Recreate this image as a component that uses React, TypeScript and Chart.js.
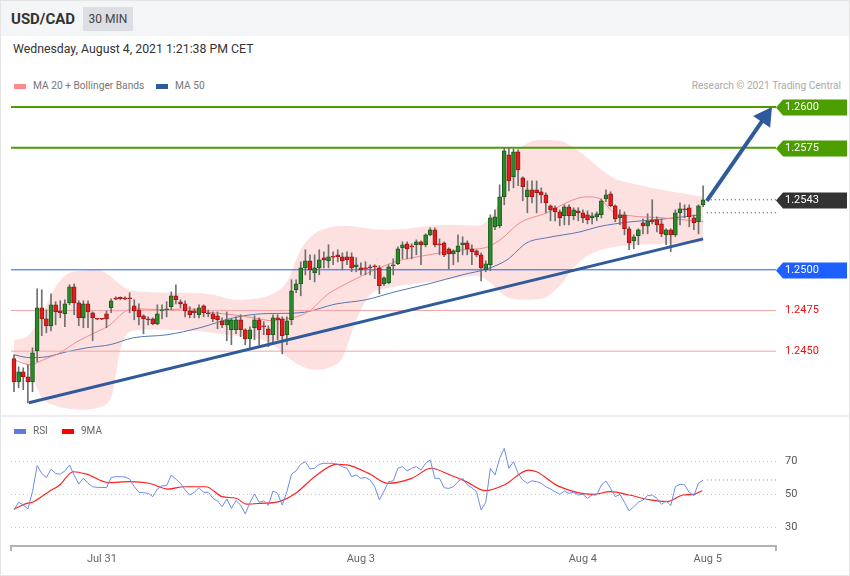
import React, { useEffect, useRef } from 'react';
import { Chart, registerables } from 'chart.js';
Chart.register(...registerables);

// ---------- candle data (USD/CAD, 30 min) ----------
const opens = [
  1.24454, 1.24312, 1.24374, 1.24343, 1.24312, 1.24503, 1.24767, 1.24699, 1.24656, 1.24785,
  1.24748, 1.24730, 1.24797, 1.24896, 1.24797, 1.24705, 1.24791, 1.24736, 1.24699, 1.24699,
  1.24730, 1.24767, 1.24828, 1.24831, 1.24828, 1.24828, 1.24779, 1.24754, 1.24718, 1.24699,
  1.24699, 1.24668, 1.24748, 1.24754, 1.24773, 1.24840, 1.24804, 1.24791, 1.24748, 1.24748,
  1.24724, 1.24779, 1.24736, 1.24730, 1.24718, 1.24687, 1.24662, 1.24632, 1.24632, 1.24693,
  1.24632, 1.24576, 1.24644, 1.24693, 1.24656, 1.24638, 1.24601, 1.24705, 1.24699, 1.24601,
  1.24693, 1.24877, 1.24914, 1.25012, 1.25055, 1.24982, 1.25012, 1.25074, 1.25055, 1.25080,
  1.25092, 1.25080, 1.25080, 1.25080, 1.25018, 1.25012, 1.25012, 1.25018, 1.25025, 1.25012,
  1.24914, 1.24920, 1.25025, 1.25037, 1.25135, 1.25160, 1.25147, 1.25154, 1.25172, 1.25154,
  1.25215, 1.25246, 1.25160, 1.25166, 1.25129, 1.25098, 1.25111, 1.25154, 1.25166, 1.25129,
  1.25117, 1.25092, 1.25000, 1.25031, 1.25264, 1.25270, 1.25448, 1.25706, 1.25571, 1.25725,
  1.25565, 1.25448, 1.25491, 1.25491, 1.25479, 1.25460, 1.25393, 1.25381, 1.25356, 1.25332,
  1.25387, 1.25332, 1.25362, 1.25350, 1.25338, 1.25319, 1.25325, 1.25338, 1.25436, 1.25467,
  1.25393, 1.25319, 1.25338, 1.25252, 1.25178, 1.25209, 1.25289, 1.25270, 1.25307, 1.25307,
  1.25282, 1.25215, 1.25246, 1.25215, 1.25350, 1.25375, 1.25381, 1.25319, 1.25295, 1.25399,
];
const highs = [
  1.24478, 1.24404, 1.24398, 1.24417, 1.24521, 1.24883, 1.24877, 1.24754, 1.24853, 1.24804,
  1.24810, 1.24816, 1.24908, 1.24914, 1.24810, 1.24810, 1.24810, 1.24742, 1.24702, 1.24702,
  1.24748, 1.24822, 1.24834, 1.24834, 1.24834, 1.24859, 1.24816, 1.24791, 1.24724, 1.24711,
  1.24705, 1.24785, 1.24785, 1.24804, 1.24865, 1.24908, 1.24816, 1.24810, 1.24773, 1.24761,
  1.24785, 1.24785, 1.24754, 1.24742, 1.24742, 1.24705, 1.24742, 1.24699, 1.24711, 1.24724,
  1.24638, 1.24650, 1.24718, 1.24705, 1.24681, 1.24656, 1.24724, 1.24724, 1.24711, 1.24711,
  1.24939, 1.24939, 1.25049, 1.25123, 1.25092, 1.25092, 1.25123, 1.25111, 1.25154, 1.25111,
  1.25123, 1.25104, 1.25111, 1.25104, 1.25074, 1.25043, 1.25049, 1.25031, 1.25031, 1.25025,
  1.24957, 1.25031, 1.25068, 1.25141, 1.25172, 1.25172, 1.25160, 1.25184, 1.25178, 1.25221,
  1.25258, 1.25258, 1.25190, 1.25172, 1.25135, 1.25123, 1.25215, 1.25203, 1.25178, 1.25154,
  1.25123, 1.25104, 1.25055, 1.25338, 1.25368, 1.25522, 1.25749, 1.25749, 1.25743, 1.25737,
  1.25571, 1.25546, 1.25546, 1.25546, 1.25503, 1.25473, 1.25399, 1.25393, 1.25368, 1.25399,
  1.25399, 1.25381, 1.25381, 1.25368, 1.25362, 1.25350, 1.25356, 1.25436, 1.25491, 1.25479,
  1.25399, 1.25368, 1.25356, 1.25264, 1.25215, 1.25252, 1.25313, 1.25344, 1.25430, 1.25325,
  1.25313, 1.25252, 1.25252, 1.25368, 1.25411, 1.25399, 1.25399, 1.25338, 1.25399, 1.25516,
];
const lows = [
  1.24251, 1.24275, 1.24263, 1.24183, 1.24251, 1.24435, 1.24595, 1.24613, 1.24625, 1.24662,
  1.24705, 1.24650, 1.24785, 1.24724, 1.24656, 1.24644, 1.24644, 1.24564, 1.24693, 1.24693,
  1.24644, 1.24736, 1.24816, 1.24816, 1.24816, 1.24736, 1.24693, 1.24662, 1.24607, 1.24662,
  1.24662, 1.24662, 1.24699, 1.24711, 1.24754, 1.24791, 1.24767, 1.24711, 1.24705, 1.24705,
  1.24705, 1.24711, 1.24711, 1.24681, 1.24638, 1.24644, 1.24564, 1.24540, 1.24607, 1.24589,
  1.24540, 1.24521, 1.24570, 1.24540, 1.24601, 1.24527, 1.24540, 1.24570, 1.24484, 1.24540,
  1.24662, 1.24859, 1.24840, 1.24969, 1.24939, 1.24926, 1.24969, 1.25012, 1.25012, 1.25031,
  1.25049, 1.25000, 1.25031, 1.24988, 1.24988, 1.24969, 1.24969, 1.24969, 1.24945, 1.24853,
  1.24902, 1.24914, 1.24969, 1.25031, 1.25068, 1.25068, 1.25068, 1.25092, 1.25031, 1.25141,
  1.25209, 1.25141, 1.25092, 1.25080, 1.25006, 1.25031, 1.25049, 1.25092, 1.25092, 1.25031,
  1.25080, 1.24932, 1.24988, 1.24994, 1.25246, 1.25258, 1.25399, 1.25485, 1.25503, 1.25516,
  1.25424, 1.25350, 1.25411, 1.25350, 1.25411, 1.25350, 1.25301, 1.25301, 1.25270, 1.25276,
  1.25276, 1.25307, 1.25301, 1.25289, 1.25282, 1.25282, 1.25301, 1.25319, 1.25418, 1.25387,
  1.25295, 1.25276, 1.25215, 1.25123, 1.25129, 1.25154, 1.25221, 1.25221, 1.25282, 1.25233,
  1.25203, 1.25154, 1.25111, 1.25203, 1.25276, 1.25319, 1.25264, 1.25246, 1.25221, 1.25387,
];
const closes = [
  1.24312, 1.24374, 1.24343, 1.24312, 1.24490, 1.24767, 1.24699, 1.24656, 1.24785, 1.24742,
  1.24736, 1.24791, 1.24896, 1.24797, 1.24705, 1.24791, 1.24742, 1.24705, 1.24696, 1.24696,
  1.24699, 1.24810, 1.24819, 1.24822, 1.24819, 1.24822, 1.24748, 1.24711, 1.24699, 1.24693,
  1.24668, 1.24730, 1.24754, 1.24761, 1.24840, 1.24816, 1.24791, 1.24748, 1.24724, 1.24736,
  1.24767, 1.24736, 1.24730, 1.24699, 1.24693, 1.24662, 1.24693, 1.24693, 1.24693, 1.24632,
  1.24576, 1.24632, 1.24693, 1.24632, 1.24650, 1.24601, 1.24705, 1.24693, 1.24595, 1.24687,
  1.24871, 1.24914, 1.25012, 1.25055, 1.25000, 1.25012, 1.25061, 1.25061, 1.25080, 1.25077,
  1.25080, 1.25055, 1.25061, 1.25012, 1.25031, 1.25000, 1.25006, 1.25012, 1.25018, 1.24902,
  1.24951, 1.25018, 1.25031, 1.25129, 1.25154, 1.25129, 1.25141, 1.25172, 1.25154, 1.25215,
  1.25246, 1.25154, 1.25154, 1.25092, 1.25098, 1.25117, 1.25147, 1.25166, 1.25129, 1.25111,
  1.25092, 1.25012, 1.25037, 1.25319, 1.25325, 1.25448, 1.25731, 1.25546, 1.25725, 1.25614,
  1.25510, 1.25491, 1.25448, 1.25473, 1.25460, 1.25411, 1.25368, 1.25356, 1.25319, 1.25387,
  1.25332, 1.25368, 1.25350, 1.25319, 1.25307, 1.25332, 1.25344, 1.25424, 1.25460, 1.25393,
  1.25313, 1.25338, 1.25252, 1.25166, 1.25203, 1.25246, 1.25270, 1.25301, 1.25295, 1.25276,
  1.25221, 1.25246, 1.25215, 1.25350, 1.25375, 1.25368, 1.25325, 1.25289, 1.25393, 1.25430,
];

const bandIdx = [0, 3, 6, 9, 12, 15, 18, 21, 23, 25, 28, 33, 38, 43, 48, 52, 56, 59, 62, 65, 68, 71, 74, 77, 80, 85, 90, 95, 100, 103, 105, 107, 110, 114, 118, 121, 124, 127, 130, 135, 140, 145, 149];
const bandUpper = [1.24570, 1.24595, 1.24724, 1.24896, 1.24982, 1.24994, 1.25000, 1.24957, 1.24908, 1.24877, 1.24865, 1.24859, 1.24859, 1.24847, 1.24816, 1.24822, 1.24853, 1.24926, 1.25123, 1.25221, 1.25258, 1.25270, 1.25264, 1.25252, 1.25246, 1.25252, 1.25270, 1.25276, 1.25270, 1.25319, 1.25430, 1.25663, 1.25761, 1.25798, 1.25792, 1.25749, 1.25688, 1.25614, 1.25559, 1.25522, 1.25491, 1.25467, 1.25448];
const bandLower = [1.24472, 1.24398, 1.24214, 1.24165, 1.24147, 1.24140, 1.24153, 1.24214, 1.24509, 1.24619, 1.24632, 1.24632, 1.24625, 1.24613, 1.24595, 1.24582, 1.24540, 1.24466, 1.24411, 1.24386, 1.24398, 1.24460, 1.24693, 1.24847, 1.24883, 1.24908, 1.24926, 1.24945, 1.24963, 1.24920, 1.24865, 1.24828, 1.24816, 1.24822, 1.24902, 1.25012, 1.25086, 1.25123, 1.25141, 1.25154, 1.25160, 1.25166, 1.25166];
const ma20Idx = [0, 3.5, 6.3, 9.9, 13.6, 17.9, 20.8, 23.6, 25.7, 33.1, 37.4, 43, 47.4, 51.7, 56, 59, 61.8, 64.2, 67.7, 71.4, 75.7, 82.4, 89.7, 96.9, 101.8, 105.1, 109.4, 115.2, 120.9, 123.9, 126.7, 129.5, 133.2, 140.3, 149];
const ma20 = [1.24447, 1.24417, 1.24447, 1.24490, 1.24558, 1.24619, 1.24662, 1.24736, 1.24761, 1.24754, 1.24761, 1.24736, 1.24724, 1.24705, 1.24687, 1.24699, 1.24718, 1.24754, 1.24847, 1.24908, 1.24969, 1.25049, 1.25092, 1.25123, 1.25135, 1.25184, 1.25289, 1.25350, 1.25430, 1.25448, 1.25436, 1.25356, 1.25332, 1.25319, 1.25295];
const ma50Idx = [0, 3.5, 7.1, 11.5, 15.8, 20.8, 25.7, 33.1, 40.2, 47.4, 53.8, 61.8, 69.8, 76.1, 82.4, 89.7, 96.9, 102.3, 106.6, 110.9, 115.2, 122.4, 126.3, 133.4, 140.8, 148.5];
const ma50 = [1.24478, 1.24460, 1.24466, 1.24497, 1.24521, 1.24540, 1.24582, 1.24601, 1.24644, 1.24705, 1.24730, 1.24736, 1.24791, 1.24816, 1.24865, 1.24914, 1.24969, 1.25006, 1.25061, 1.25166, 1.25197, 1.25233, 1.25264, 1.25295, 1.25313, 1.25338];

// support / resistance levels
const levelPrices = [1.2600, 1.2575, 1.2543, 1.2500, 1.2475, 1.2450];
const levelLabels = ['1.2600', '1.2575', '1.2543', '1.2500', '1.2475', '1.2450'];
const pivotPrice = 1.2535;

// trend line and forecast arrow
const trendIdx = [3.2, 149];
const trendPrices = [1.24183, 1.25190];
const arrowIdx = [149.8, 162.4];
const arrowPrices = [1.25424, 1.25939];

// RSI (14) and its 9-period MA
const rsi = [
  40.3, 45, 43.3, 41, 51.4, 67.2, 62.5, 60, 65, 62.5,
  62, 64, 67.6, 61.5, 56, 59.5, 56.5, 54.4, 54, 54,
  53.8, 60, 60.5, 60.5, 60.3, 59, 54.4, 51, 50.8, 50.4,
  48.4, 53, 55, 55, 61.5, 59, 56.5, 52.4, 49.4, 51,
  53.8, 51, 51, 47.4, 45.8, 42.3, 47, 41.3, 46, 43.3,
  37.9, 44.7, 50, 45, 45.8, 43, 51.8, 50.4, 43.3, 51.4,
  62, 64, 68, 69.6, 65.2, 65.6, 68, 68.6, 68.6, 68.6,
  68, 66.6, 65.6, 60.5, 61.5, 59.5, 60, 58.5, 54.4, 46.4,
  51.8, 57.5, 57.9, 65.6, 66.6, 64, 65.6, 66.6, 64.5, 68.6,
  70.6, 59.5, 59.5, 53.8, 53.4, 54.4, 57.5, 59.5, 55.5, 53.8,
  51.4, 40.3, 45, 65.6, 61.5, 71.6, 77.7, 65.6, 69.6, 62.5,
  58.5, 56.5, 58, 57.5, 56.5, 54.4, 53, 51.4, 49.8, 51.8,
  50.4, 51, 49.4, 49.8, 47.4, 49.4, 49.4, 55.5, 57.9, 53.4,
  48.4, 49.8, 45, 39.7, 42.3, 45, 46.4, 49, 49.4, 47.4,
  43.7, 45.8, 43, 54.4, 55.9, 55.5, 51, 49, 56.5, 58.5,
];
const rsiMaIdx = [0, 2.8, 4, 7.5, 9.9, 12.8, 15.7, 20.4, 25.1, 29.2, 33.3, 36.8, 41.5, 45, 48, 50.3, 53.2, 57.3, 60.9, 65, 69.7, 72, 76.7, 80.8, 86, 90.2, 94.3, 97.8, 101.9, 106, 111.3, 113, 117.7, 125.3, 128.9, 133, 137.6, 141.2, 144.7, 147, 148.8];
const rsiMa = [40.9, 44.3, 45, 51.4, 55.5, 63.5, 62, 56.9, 57.5, 56.5, 53, 54.4, 54.4, 48.4, 47.4, 43.9, 44.3, 45.4, 50.4, 60.5, 68, 67.6, 62.5, 56.5, 59.5, 65.6, 61.5, 57.5, 52, 55.5, 64.5, 63.5, 54.8, 49.8, 51.4, 49.4, 46.4, 45.4, 49.4, 49.8, 52];
const rsiLevels = [70, 50, 30];

// time axis
const xTickIdx = [19, 75, 123, 150];
const xTickLabels = ['Jul 31', 'Aug 3', 'Aug 4', 'Aug 5'];

// ---------- layout constants ----------
const X_MIN = -0.65;
const X_MAX = 164.76;
const Y_MIN = 1.241081;
const Y_MAX = 1.260737;
const R_MIN = 0.909;
const R_MAX = 96.667;
const FONT = 'Roboto, "Liberation Sans", Arial, sans-serif';

const GREEN = '#4b9d00';
const BLUE_LVL = '#1d5fff';
const RED_LVL = '#f5a5a5';
const TREND = '#2f5b9c';

const pts = (xs: number[], ys: number[]) => xs.map((x, k) => ({ x, y: ys[k] }));

const levelStyle = ['green', 'green', 'dark', 'blue', 'red', 'red'];

const levelPlugin = {
  id: 'levelLabels',
  afterDraw(chart: any) {
    const { ctx } = chart;
    const y = chart.scales.y;
    const right = chart.chartArea.right;
    ctx.save();
    ctx.font = `11px ${FONT}`;
    ctx.textBaseline = 'middle';
    ctx.textAlign = 'left';
    levelPrices.forEach((p, k) => {
      const py = Math.round(y.getPixelForValue(p)) + 0.5;
      const st = levelStyle[k];
      if (st === 'red') {
        ctx.fillStyle = '#f01010';
        ctx.fillText(levelLabels[k], right + 9, py);
        return;
      }
      const bg = st === 'green' ? GREEN : st === 'blue' ? BLUE_LVL : '#333333';
      ctx.fillStyle = bg;
      ctx.beginPath();
      ctx.moveTo(right, py);
      ctx.lineTo(right + 7, py - 8);
      ctx.lineTo(right + 71, py - 8);
      ctx.lineTo(right + 71, py + 8);
      ctx.lineTo(right + 7, py + 8);
      ctx.closePath();
      ctx.fill();
      ctx.fillStyle = '#ffffff';
      ctx.fillText(levelLabels[k], right + 9, py);
    });
    ctx.restore();
  },
};

const rsiPlugin = {
  id: 'rsiDecor',
  beforeDatasetsDraw(chart: any) {
    const { ctx, chartArea } = chart;
    const y = chart.scales.y;
    ctx.save();
    ctx.strokeStyle = '#c4c4c4';
    ctx.lineWidth = 1;
    ctx.setLineDash([1, 3]);
    rsiLevels.forEach((v) => {
      const py = Math.round(y.getPixelForValue(v)) + 0.5;
      ctx.beginPath();
      ctx.moveTo(chartArea.left, py);
      ctx.lineTo(chartArea.right, py);
      ctx.stroke();
    });
    ctx.restore();
  },
  afterDraw(chart: any) {
    const { ctx, chartArea } = chart;
    const y = chart.scales.y;
    const x = chart.scales.x;
    ctx.save();
    ctx.font = `11px ${FONT}`;
    ctx.textBaseline = 'middle';
    ctx.textAlign = 'left';
    ctx.fillStyle = '#555';
    rsiLevels.forEach((v) => {
      ctx.fillText(String(v), chartArea.right + 9, Math.round(y.getPixelForValue(v)));
    });
    const ay = chartArea.bottom - 29;
    ctx.strokeStyle = '#b3b3b3';
    ctx.lineWidth = 2;
    ctx.beginPath();
    ctx.moveTo(chartArea.left, ay + 5);
    ctx.lineTo(chartArea.left, ay);
    ctx.lineTo(chartArea.right, ay);
    ctx.lineTo(chartArea.right, ay + 5);
    ctx.stroke();
    ctx.fillStyle = '#666';
    ctx.textAlign = 'center';
    xTickIdx.forEach((t, k) => {
      ctx.fillText(xTickLabels[k], x.getPixelForValue(t), ay + 13);
    });
    ctx.restore();
  },
};

export default function App() {
  const mainRef = useRef<HTMLCanvasElement>(null);
  const rsiRef = useRef<HTMLCanvasElement>(null);

  useEffect(() => {
    const idx = closes.map((_, i) => i);
    const up = closes.map((c, i) => c >= opens[i]);
    const last = closes[closes.length - 1];
    const lastX = arrowIdx[0];

    const flat = (p: number, color: string, w: number, x0 = X_MIN, dash: number[] = []) => ({
      type: 'line',
      data: [{ x: x0, y: p }, { x: X_MAX, y: p }],
      borderColor: color,
      borderWidth: w,
      borderDash: dash,
      pointRadius: 0,
      fill: false,
      order: 7,
    });

    const main = new Chart(mainRef.current as HTMLCanvasElement, {
      type: 'line',
      data: {
        datasets: [
          {
            data: pts(bandIdx, bandUpper),
            borderWidth: 0,
            borderColor: 'rgba(0,0,0,0)',
            pointRadius: 0,
            fill: '+1',
            backgroundColor: 'rgba(250,178,178,0.4)',
            cubicInterpolationMode: 'monotone',
            order: 10,
          },
          {
            data: pts(bandIdx, bandLower),
            borderWidth: 0,
            borderColor: 'rgba(0,0,0,0)',
            pointRadius: 0,
            fill: false,
            cubicInterpolationMode: 'monotone',
            order: 10,
          },
          {
            data: pts(ma20Idx, ma20),
            borderColor: '#f58a8a',
            borderWidth: 1,
            pointRadius: 0,
            fill: false,
            cubicInterpolationMode: 'monotone',
            order: 9,
          },
          {
            data: pts(ma50Idx, ma50),
            borderColor: '#5577b3',
            borderWidth: 1,
            pointRadius: 0,
            fill: false,
            cubicInterpolationMode: 'monotone',
            order: 9,
          },
          flat(levelPrices[0], GREEN, 2),
          flat(levelPrices[1], GREEN, 2),
          flat(levelPrices[3], BLUE_LVL, 1),
          flat(levelPrices[4], RED_LVL, 1),
          flat(levelPrices[5], RED_LVL, 1),
          flat(last, '#333', 1, lastX, [1, 3]),
          flat(pivotPrice, '#333', 1, lastX, [1, 3]),
          {
            type: 'bar',
            data: idx.map((i) => ({ x: i, y: [lows[i], highs[i]] })),
            backgroundColor: '#707070',
            barThickness: 1,
            maxBarThickness: 1,
            grouped: false,
            order: 3,
          },
          {
            type: 'bar',
            data: idx.map((i) => ({ x: i, y: [opens[i], closes[i]] })),
            backgroundColor: up.map((u) => (u ? '#2a8a2a' : '#e81c1c')),
            borderColor: up.map((u) => (u ? '#1b5a1b' : '#a01414')),
            borderWidth: 1,
            borderSkipped: false,
            barThickness: 4,
            maxBarThickness: 4,
            minBarLength: 1,
            grouped: false,
            order: 2,
          },
          {
            data: pts(trendIdx, trendPrices),
            borderColor: TREND,
            borderWidth: 3,
            pointRadius: 0,
            fill: false,
            order: 1,
          },
          {
            data: pts(arrowIdx, arrowPrices),
            borderColor: TREND,
            borderWidth: 4,
            pointRadius: [0, 8],
            pointStyle: 'triangle',
            pointRotation: [0, 35],
            pointBackgroundColor: TREND,
            pointBorderColor: TREND,
            fill: false,
            clip: false,
            order: 0,
          },
        ],
      } as any,
      options: {
        animation: false,
        responsive: false,
        events: [],
        layout: { autoPadding: false, padding: { left: 11, right: 74, top: 0, bottom: 0 } },
        plugins: { legend: { display: false }, tooltip: { enabled: false } },
        scales: {
          x: { type: 'linear', min: X_MIN, max: X_MAX, display: false, offset: false },
          y: { type: 'linear', min: Y_MIN, max: Y_MAX, display: false },
        },
      } as any,
      plugins: [levelPlugin],
    });

    const rsiChart = new Chart(rsiRef.current as HTMLCanvasElement, {
      type: 'line',
      data: {
        datasets: [
          {
            data: pts(idx, rsi),
            borderColor: '#6d8ce6',
            borderWidth: 1,
            pointRadius: 0,
            fill: false,
            tension: 0,
          },
          {
            data: pts(rsiMaIdx, rsiMa),
            borderColor: '#ff2020',
            borderWidth: 1.2,
            pointRadius: 0,
            fill: false,
            cubicInterpolationMode: 'monotone',
          },
          {
            data: [{ x: lastX, y: rsi[rsi.length - 1] }, { x: X_MAX, y: rsi[rsi.length - 1] }],
            borderColor: '#6d8ce6',
            borderWidth: 1,
            borderDash: [1, 3],
            pointRadius: 0,
            fill: false,
          },
        ],
      } as any,
      options: {
        animation: false,
        responsive: false,
        events: [],
        layout: { autoPadding: false, padding: { left: 11, right: 74, top: 0, bottom: 0 } },
        plugins: { legend: { display: false }, tooltip: { enabled: false } },
        scales: {
          x: { type: 'linear', min: X_MIN, max: X_MAX, display: false },
          y: { type: 'linear', min: R_MIN, max: R_MAX, display: false },
        },
      } as any,
      plugins: [rsiPlugin],
    });

    return () => {
      main.destroy();
      rsiChart.destroy();
    };
  }, []);

  const abs = (s: any) => ({ position: 'absolute' as const, ...s });

  return (
    <div style={abs({ left: 0, top: 0, width: 850, height: 576, background: '#fff', fontFamily: FONT, overflow: 'hidden' })}>
      <div style={abs({ left: 0, top: 0, width: 850, height: 36, background: '#f4f5f6' })} />
      <div style={abs({ left: 11, top: 9, fontSize: 15, fontWeight: 700, color: '#333', lineHeight: '20px', whiteSpace: 'nowrap' })}>USD/CAD</div>
      <div style={abs({ left: 83, top: 7, width: 50, height: 24, background: '#dcdee3', color: '#444', fontSize: 12, lineHeight: '24px', textAlign: 'center' })}>30 MIN</div>
      <div style={abs({ left: 13, top: 41, fontSize: 12.3, color: '#333', lineHeight: '16px', whiteSpace: 'nowrap' })}>Wednesday, August 4, 2021 1:21:38 PM CET</div>

      <div style={abs({ left: 14, top: 84, width: 12, height: 5, background: '#f88' })} />
      <div style={abs({ left: 33, top: 79, fontSize: 10.2, color: '#777', lineHeight: '14px', whiteSpace: 'nowrap' })}>MA 20 + Bollinger Bands</div>
      <div style={abs({ left: 156, top: 84, width: 12, height: 5, background: TREND })} />
      <div style={abs({ left: 175, top: 79, fontSize: 10.2, color: '#777', lineHeight: '14px', whiteSpace: 'nowrap' })}>MA 50</div>
      <div style={abs({ right: 9, top: 79, fontSize: 10.2, color: '#aaa', lineHeight: '14px', whiteSpace: 'nowrap' })}>Research © 2021 Trading Central</div>

      <canvas ref={mainRef} width={850} height={320} style={abs({ left: 0, top: 95 })} />

      <div style={abs({ left: 0, top: 415, width: 850, height: 2, background: '#ebecee' })} />

      <canvas ref={rsiRef} width={850} height={158} style={abs({ left: 0, top: 417 })} />

      <div style={abs({ left: 14, top: 429, width: 12, height: 5, background: '#5b7be0' })} />
      <div style={abs({ left: 33, top: 424, fontSize: 10, color: '#666', lineHeight: '14px' })}>RSI</div>
      <div style={abs({ left: 62, top: 429, width: 12, height: 5, background: '#ff0000' })} />
      <div style={abs({ left: 81, top: 424, fontSize: 10, color: '#666', lineHeight: '14px' })}>9MA</div>

      <div style={abs({ left: 0, top: 0, width: 850, height: 576, border: '1px solid #e4e4e4', boxSizing: 'border-box', pointerEvents: 'none' })} />
    </div>
  );
}
